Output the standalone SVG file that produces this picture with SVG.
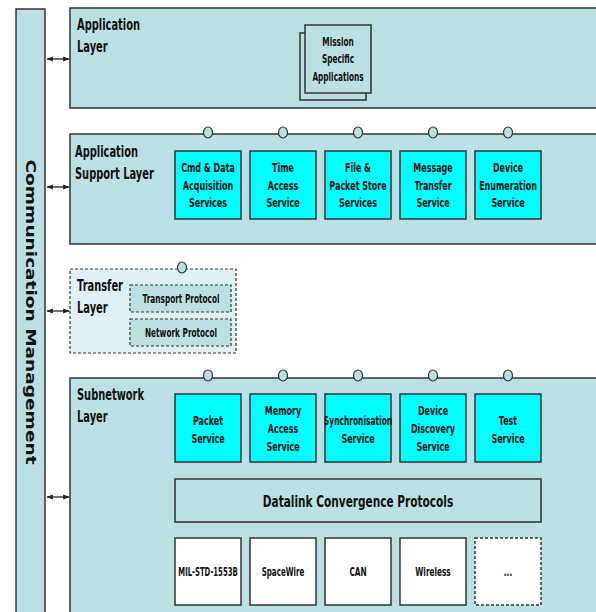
<svg xmlns="http://www.w3.org/2000/svg" width="596" height="612" viewBox="0 0 596 612">
<defs>
<style>
.layer{fill:#bbe0e3;stroke:#333;stroke-width:1.5}
.svc{fill:#00ffff;stroke:#333;stroke-width:1.5}
.phy{fill:#ffffff;stroke:#333;stroke-width:1.5}
.dash{stroke-dasharray:3,2}
.t{font-family:"DejaVu Sans",sans-serif;font-weight:bold;font-size:12.5px;fill:#111;text-anchor:middle}
.s{font-family:"DejaVu Sans",sans-serif;font-weight:bold;font-size:11.5px;fill:#111;text-anchor:middle}
.big{font-family:"DejaVu Sans",sans-serif;font-weight:bold;font-size:16px;fill:#111;text-anchor:middle}
.lt{font-family:"DejaVu Sans",sans-serif;font-weight:bold;font-size:15px;fill:#111}
.lol{fill:#bbe0e3;stroke:#333;stroke-width:1.2}
.ln{stroke:#333;stroke-width:1.2;fill:none}
.arr{stroke:#222;stroke-width:1.3;fill:none;marker-start:url(#ah);marker-end:url(#ah)}
</style>
<marker id="ah" viewBox="0 0 10 10" refX="9" refY="5" markerWidth="6.5" markerHeight="6.5" orient="auto-start-reverse" markerUnits="userSpaceOnUse">
<path d="M0,1 L10,5 L0,9 z" fill="#222"/>
</marker>
</defs>
<rect width="596" height="612" fill="#fff"/>

<g id="comm-mgmt">
<rect x="16" y="9" width="29" height="610" class="layer"/>
<text transform="translate(26,312) rotate(90)" text-anchor="middle" font-family="DejaVu Sans, sans-serif" font-weight="bold" font-size="14" fill="#111" textLength="305" lengthAdjust="spacingAndGlyphs">Communication Management</text>
</g>

<g id="connectors">
<line x1="47" y1="59" x2="69" y2="59" class="arr"/>
<line x1="47" y1="187" x2="69" y2="187" class="arr"/>
<line x1="47" y1="311" x2="69" y2="311" class="arr"/>
<line x1="47" y1="497" x2="69" y2="497" class="arr"/>
<line x1="182" y1="273" x2="182" y2="285" class="ln"/>
<line x1="182" y1="312" x2="182" y2="319" class="ln"/>
<g class="ln">
<line x1="208" y1="138" x2="208" y2="151"/><line x1="283" y1="138" x2="283" y2="151"/><line x1="358" y1="138" x2="358" y2="151"/><line x1="433" y1="138" x2="433" y2="151"/><line x1="508" y1="138" x2="508" y2="151"/>
<line x1="208" y1="381" x2="208" y2="394"/><line x1="283" y1="381" x2="283" y2="394"/><line x1="358" y1="381" x2="358" y2="394"/><line x1="433" y1="381" x2="433" y2="394"/><line x1="508" y1="381" x2="508" y2="394"/>
</g>
</g>

<g id="application-layer">
<rect x="70" y="8" width="540" height="100" class="layer"/>
<text class="lt" transform="translate(77,30) scale(0.66,1)">Application</text>
<text class="lt" transform="translate(77,52) scale(0.66,1)">Layer</text>
</g>
<g id="mission-apps">
<rect x="300" y="33" width="66" height="67" class="layer"/>
<rect x="305" y="25" width="66" height="68" class="layer"/>
<text class="s" transform="translate(338,46) scale(0.64,1)">Mission</text>
<text class="s" transform="translate(338,63) scale(0.64,1)">Specific</text>
<text class="s" transform="translate(338,81) scale(0.64,1)">Applications</text>
</g>

<g id="application-support-layer">
<rect x="70" y="134" width="540" height="110" class="layer"/>
<text class="lt" transform="translate(75,157) scale(0.66,1)">Application</text>
<text class="lt" transform="translate(75,179) scale(0.66,1)">Support Layer</text>
</g>
<g id="lollipops-asl">
<ellipse cx="208" cy="132.5" rx="4.5" ry="5.5" class="lol"/><ellipse cx="283" cy="132.5" rx="4.5" ry="5.5" class="lol"/><ellipse cx="358" cy="132.5" rx="4.5" ry="5.5" class="lol"/><ellipse cx="433" cy="132.5" rx="4.5" ry="5.5" class="lol"/><ellipse cx="508" cy="132.5" rx="4.5" ry="5.5" class="lol"/>
</g>
<g id="cmd-data">
<rect x="175" y="151" width="66" height="68" class="svc"/>
<text class="t" transform="translate(208,172) scale(0.64,1)">Cmd &amp; Data</text><text class="t" transform="translate(208,190) scale(0.64,1)">Acquisition</text><text class="t" transform="translate(208,207) scale(0.64,1)">Services</text>
</g>
<g id="time-access">
<rect x="250" y="151" width="66" height="68" class="svc"/>
<text class="t" transform="translate(283,172) scale(0.64,1)">Time</text><text class="t" transform="translate(283,190) scale(0.64,1)">Access</text><text class="t" transform="translate(283,207) scale(0.64,1)">Service</text>
</g>
<g id="file-packet">
<rect x="325" y="151" width="66" height="68" class="svc"/>
<text class="t" transform="translate(358,172) scale(0.64,1)">File &amp;</text><text class="t" transform="translate(358,190) scale(0.64,1)">Packet Store</text><text class="t" transform="translate(358,207) scale(0.64,1)">Services</text>
</g>
<g id="message-transfer">
<rect x="400" y="151" width="66" height="68" class="svc"/>
<text class="t" transform="translate(433,172) scale(0.64,1)">Message</text><text class="t" transform="translate(433,190) scale(0.64,1)">Transfer</text><text class="t" transform="translate(433,207) scale(0.64,1)">Service</text>
</g>
<g id="device-enum">
<rect x="475" y="151" width="66" height="68" class="svc"/>
<text class="t" transform="translate(508,172) scale(0.64,1)">Device</text><text class="t" transform="translate(508,190) scale(0.64,1)">Enumeration</text><text class="t" transform="translate(508,207) scale(0.64,1)">Service</text>
</g>

<g id="transfer-layer">
<rect x="70" y="269" width="166" height="84" fill="#dff0f2" stroke="#333" stroke-width="1.2" class="dash"/>
<text class="lt" transform="translate(77,291) scale(0.66,1)">Transfer</text>
<text class="lt" transform="translate(77,313) scale(0.66,1)">Layer</text>
<ellipse cx="182" cy="267.5" rx="4.5" ry="5.5" class="lol"/>
</g>
<g id="transport-protocol">
<rect x="130" y="285" width="101" height="27" fill="#bbe0e3" stroke="#333" stroke-width="1.2" class="dash"/>
<text class="s" transform="translate(181,303) scale(0.64,1)">Transport Protocol</text>
</g>
<g id="network-protocol">
<rect x="130" y="319" width="101" height="27" fill="#bbe0e3" stroke="#333" stroke-width="1.2" class="dash"/>
<text class="s" transform="translate(181,337) scale(0.64,1)">Network Protocol</text>
</g>

<g id="subnetwork-layer">
<rect x="70" y="378" width="540" height="250" class="layer"/>
<text class="lt" transform="translate(77,400) scale(0.66,1)">Subnetwork</text>
<text class="lt" transform="translate(77,422) scale(0.66,1)">Layer</text>
</g>
<g id="lollipops-snl">
<ellipse cx="208" cy="375.5" rx="4.5" ry="5.5" class="lol"/><ellipse cx="283" cy="375.5" rx="4.5" ry="5.5" class="lol"/><ellipse cx="358" cy="375.5" rx="4.5" ry="5.5" class="lol"/><ellipse cx="433" cy="375.5" rx="4.5" ry="5.5" class="lol"/><ellipse cx="508" cy="375.5" rx="4.5" ry="5.5" class="lol"/>
</g>
<g id="packet-service">
<rect x="175" y="394" width="66" height="68" class="svc"/>
<text class="t" transform="translate(208,425) scale(0.64,1)">Packet</text><text class="t" transform="translate(208,443) scale(0.64,1)">Service</text>
</g>
<g id="memory-access">
<rect x="250" y="394" width="66" height="68" class="svc"/>
<text class="t" transform="translate(283,415) scale(0.64,1)">Memory</text><text class="t" transform="translate(283,433) scale(0.64,1)">Access</text><text class="t" transform="translate(283,451) scale(0.64,1)">Service</text>
</g>
<g id="synchronisation">
<rect x="325" y="394" width="66" height="68" class="svc"/>
<text class="t" transform="translate(358,425) scale(0.6,1)">Synchronisation</text><text class="t" transform="translate(358,443) scale(0.64,1)">Service</text>
</g>
<g id="device-discovery">
<rect x="400" y="394" width="66" height="68" class="svc"/>
<text class="t" transform="translate(433,415) scale(0.64,1)">Device</text><text class="t" transform="translate(433,433) scale(0.64,1)">Discovery</text><text class="t" transform="translate(433,451) scale(0.64,1)">Service</text>
</g>
<g id="test-service">
<rect x="475" y="394" width="66" height="68" class="svc"/>
<text class="t" transform="translate(508,425) scale(0.64,1)">Test</text><text class="t" transform="translate(508,443) scale(0.64,1)">Service</text>
</g>

<g id="datalink">
<rect x="175" y="479" width="366" height="43" class="layer"/>
<text class="big" transform="translate(358,507) scale(0.66,1)">Datalink Convergence Protocols</text>
</g>
<g id="mil-std">
<rect x="175" y="538" width="66" height="67" class="phy"/>
<text class="s" transform="translate(208,576) scale(0.6,1)">MIL-STD-1553B</text>
</g>
<g id="spacewire">
<rect x="250" y="538" width="66" height="67" class="phy"/>
<text class="s" transform="translate(283,576) scale(0.62,1)">SpaceWire</text>
</g>
<g id="can">
<rect x="325" y="538" width="66" height="67" class="phy"/>
<text class="s" transform="translate(358,576) scale(0.64,1)">CAN</text>
</g>
<g id="wireless">
<rect x="400" y="538" width="66" height="67" class="phy"/>
<text class="s" transform="translate(433,576) scale(0.64,1)">Wireless</text>
</g>
<g id="more">
<rect x="475" y="538" width="66" height="67" class="phy dash"/>
<text class="s" transform="translate(508,576) scale(0.64,1)">...</text>
</g>
</svg>
